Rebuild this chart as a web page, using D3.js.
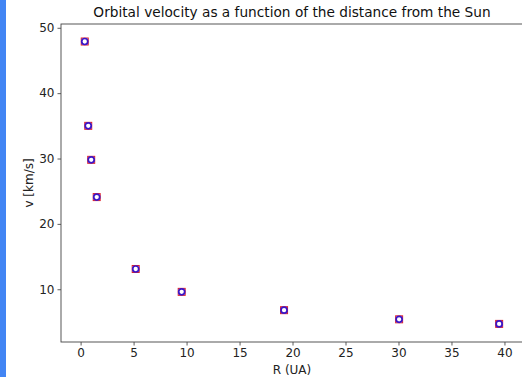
<!DOCTYPE html>
<html><head><meta charset="utf-8">
<script src="https://cdn.jsdelivr.net/npm/d3@7"></script>
<style>body{margin:0;background:#fff;}svg{display:block;font-family:"DejaVu Sans",sans-serif;}</style>
</head><body><svg id="c" width="522" height="377"></svg>
<script>
const planets = ["Mercury","Venus","Earth","Mars","Jupiter","Saturn","Uranus","Neptune","Pluto"];
const distanceUA = [0.39, 0.72, 1.0, 1.52, 5.2, 9.54, 19.2, 30.06, 39.5];
const velocityKms = [47.9, 35.0, 29.8, 24.1, 13.1, 9.6, 6.8, 5.4, 4.7];
const xTicks = [0,5,10,15,20,25,30,35,40];
const yTicks = [10,20,30,40,50];

const svg = d3.select("#c");
svg.append("rect").attr("x",0).attr("y",0).attr("width",6).attr("height",377).attr("fill","#4285f4");
const L=61, R=523, T=24, B=342;
const x = d3.scaleLinear().domain([-1.85, 41.75]).range([L,R]);
const y = d3.scaleLinear().domain([1.93, 50.58]).range([B,T]);

const gx = svg.append("g").attr("transform",`translate(0,${B})`)
  .call(d3.axisBottom(x).tickValues(xTicks).tickSize(3.5).tickPadding(3).tickFormat(d3.format("d")));
const gy = svg.append("g").attr("transform",`translate(${L},0)`)
  .call(d3.axisLeft(y).tickValues(yTicks).tickSize(3.5).tickPadding(3).tickFormat(d3.format("d")));
[gx,gy].forEach(g=>{
  g.select(".domain").remove();
  g.selectAll("line").attr("stroke","#333").attr("stroke-width",0.8);
  g.selectAll("text").attr("fill","#222").style("font-size","12px").style("font-family","DejaVu Sans");
});
svg.append("rect").attr("x",L).attr("y",T).attr("width",R-L).attr("height",B-T)
  .attr("fill","none").attr("stroke","#444").attr("stroke-width",0.9);

const pts = svg.append("g");
distanceUA.forEach((d,i)=>{
  const px=x(d), py=y(velocityKms[i]);
  pts.append("rect").attr("x",px-3.5).attr("y",py-3.5).attr("width",7).attr("height",7)
    .attr("fill","none").attr("stroke","#e0202a").attr("stroke-width",1);
  pts.append("circle").attr("cx",px).attr("cy",py).attr("r",3)
    .attr("fill","none").attr("stroke","#3a16c8").attr("stroke-width",1.7);
});

svg.append("text").attr("x",(L+R)/2).attr("y",17).attr("text-anchor","middle")
  .style("font-size","13.7px").attr("fill","#111").text("Orbital velocity as a function of the distance from the Sun");
svg.append("text").attr("x",(L+R)/2).attr("y",374).attr("text-anchor","middle")
  .style("font-size","12px").attr("fill","#222").text("R (UA)");
svg.append("text").attr("transform",`translate(33,${(T+B)/2}) rotate(-90)`).attr("text-anchor","middle")
  .style("font-size","12px").attr("fill","#222").text("v [km/s]");
</script></body></html>
